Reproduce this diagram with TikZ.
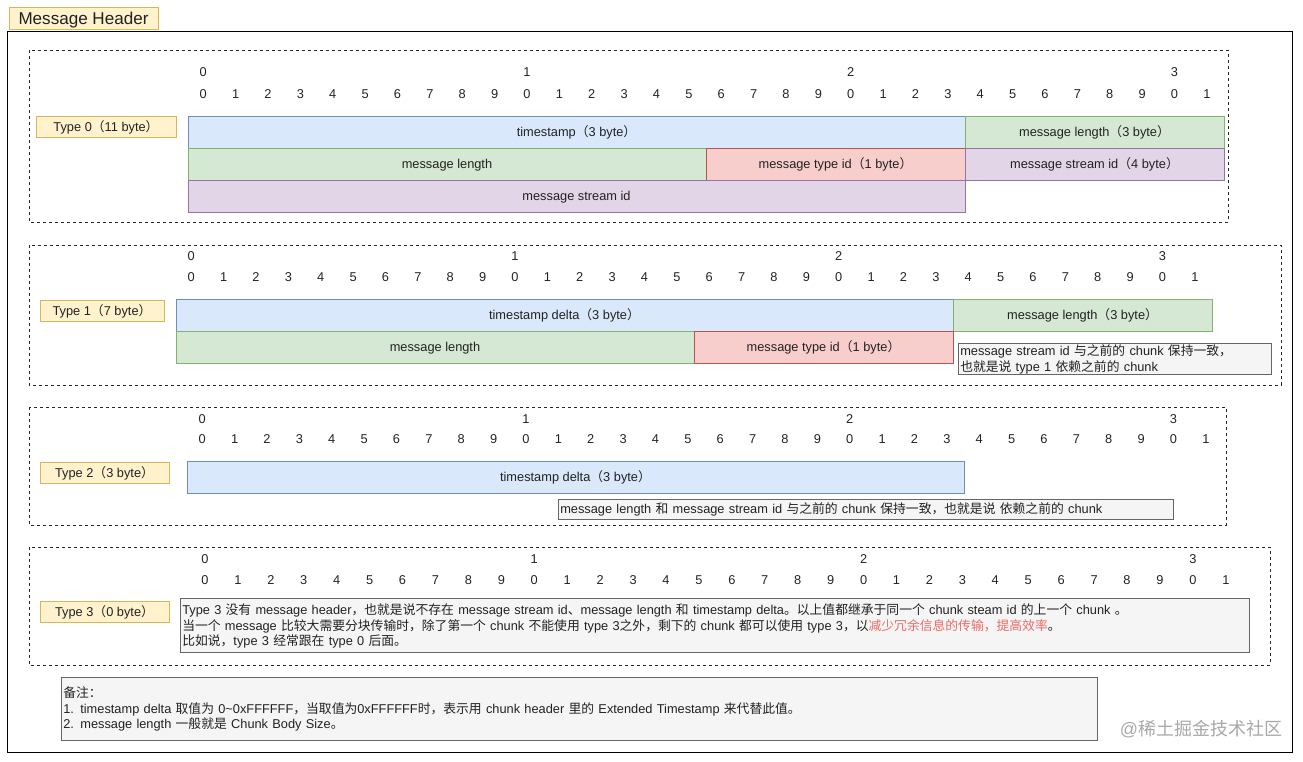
\documentclass[tikz,border=0pt]{standalone}
\usepackage{fontspec}
\setmainfont{Liberation Sans}
\newfontfamily\cjkfont{Noto Sans CJK SC}
\XeTeXinterchartokenstate=1
\chardef\CJKcls=10
\newcount\cjkcc
\cjkcc="3000 \loop \XeTeXcharclass\cjkcc=\CJKcls \ifnum\cjkcc<"303F \advance\cjkcc by 1 \repeat
\cjkcc="4E00 \loop \XeTeXcharclass\cjkcc=\CJKcls \ifnum\cjkcc<"9FFF \advance\cjkcc by 1 \repeat
\cjkcc="FF00 \loop \XeTeXcharclass\cjkcc=\CJKcls \ifnum\cjkcc<"FFEF \advance\cjkcc by 1 \repeat
\XeTeXinterchartoks 0 \CJKcls = {\cjkfont}
\XeTeXinterchartoks 4095 \CJKcls = {\cjkfont}
\XeTeXinterchartoks \CJKcls 0 = {\normalfont}
\XeTeXinterchartoks \CJKcls 4095 = {\normalfont}
\definecolor{yfill}{HTML}{FFF2CC}\definecolor{ydraw}{HTML}{D6B656}
\definecolor{bfill}{HTML}{DAE8FC}\definecolor{bdraw}{HTML}{6C8EBF}
\definecolor{gfill}{HTML}{D5E8D4}\definecolor{gdraw}{HTML}{82B366}
\definecolor{rfill}{HTML}{F8CECC}\definecolor{rdraw}{HTML}{B85450}
\definecolor{pfill}{HTML}{E1D5E7}\definecolor{pdraw}{HTML}{9673A6}
\definecolor{nfill}{HTML}{F5F5F5}\definecolor{ndraw}{HTML}{666666}
\definecolor{txt}{HTML}{222222}\definecolor{redtxt}{HTML}{EA6B66}
\definecolor{wm}{HTML}{A8A8A8}
\newcommand\fld[7]{\node[#6, minimum width={(#4-#2)*0.75pt}, minimum height={(#5-#3)*0.75pt}] (#1) at ({(#2+#4)/2},{(#3+#5)/2}) {#7};}
\newcommand\notebox[7]{%
  \node[notebg, minimum width={(#4-#2)*0.75pt}, minimum height={(#5-#3)*0.75pt}] (#1) at ({(#2+#4)/2},{(#3+#5)/2}) {};
  \node[notetext, anchor=base west, text width={(#4-#2-4)*0.75pt}] (#1-t) at (#2+2,#6) {#7};}
\newcommand\bitrow[5]{%
  \foreach \i in {0,...,31}{\pgfmathtruncatemacro\dd{mod(\i,10)}\node[digit] (#1-\i) at ({#2+(\i+0.5)*#3},#5) {\dd};}
  \foreach \i/\t in {0/0,10/1,20/2,30/3}{\node[digit] (#1-d\i) at ({#2+(\i+0.5)*#3},#4) {\t};}}
\begin{document}
\begin{tikzpicture}[x=0.75pt,y=-0.75pt,
  font=\fontsize{9.6}{11.6}\selectfont, text=txt,
  base/.style={inner sep=0pt, outer sep=0pt, line width=0.75pt, text height=9pt, text depth=2.1pt},
  yel/.style={base, fill=yfill, draw=ydraw},
  blu/.style={base, fill=bfill, draw=bdraw},
  grn/.style={base, fill=gfill, draw=gdraw},
  rd/.style={base, fill=rfill, draw=rdraw},
  pur/.style={base, fill=pfill, draw=pdraw},
  notebg/.style={inner sep=0pt, outer sep=0pt, line width=0.75pt, fill=nfill, draw=ndraw},
  notetext/.style={inner sep=0pt, align=left, font=\fontsize{9.6}{11.6}\selectfont},
  digit/.style={inner sep=0pt, text height=9pt, text depth=2.1pt},
  grp/.style={draw=black!85, line width=0.75pt, dash pattern=on 2.25pt off 2.25pt}]
\useasboundingbox (0,0) rectangle (1303,761);
% title & outer frame
\fld{title}{9}{7}{158}{29}{yel, font=\fontsize{12.8}{15}\selectfont, text height=12pt, text depth=2.8pt}{Message Header}
\draw[line width=0.75pt] (7,31) rectangle (1292,752);
% ---------- Type 0
\draw[grp] (29,50) rectangle (1228,222);
\bitrow{a}{187}{32.375}{72}{94}
\fld{t0}{36}{116}{176}{137}{yel}{Type 0（11 byte）}
\fld{a1}{188}{116}{965}{148}{blu}{timestamp（3 byte）}
\fld{a2}{965}{116}{1224}{148}{grn}{message length（3 byte）}
\fld{a3}{188}{148}{706}{180}{grn}{message length}
\fld{a4}{706}{148}{965}{180}{rd}{message type id（1 byte）}
\fld{a5}{965}{148}{1224}{180}{pur}{message stream id（4 byte）}
\fld{a6}{188}{180}{965}{212}{pur}{message stream id}
% ---------- Type 1
\draw[grp] (29,245) rectangle (1281,385);
\bitrow{b}{175}{32.375}{256}{277}
\fld{t1}{40}{300}{164}{321}{yel}{Type 1（7 byte）}
\fld{b1}{176}{299}{953}{331}{blu}{timestamp delta（3 byte）}
\fld{b2}{953}{299}{1212}{331}{grn}{message length（3 byte）}
\fld{b3}{176}{331}{694}{363}{grn}{message length}
\fld{b4}{694}{331}{953}{363}{rd}{message type id（1 byte）}
\notebox{n1}{958}{343}{1271}{374}{355.6}{message stream id 与之前的 chunk 保持一致，\\也就是说 type 1 依赖之前的 chunk}
% ---------- Type 2
\draw[grp] (29,407) rectangle (1226,525);
\bitrow{c}{186}{32.375}{419}{439}
\fld{t2}{40}{462}{169}{483}{yel}{Type 2（3 byte）}
\fld{c1}{187}{461}{964}{493}{blu}{timestamp delta（3 byte）}
\notebox{n2}{558}{499}{1173}{519}{513.6}{message length 和 message stream id 与之前的 chunk 保持一致，也就是说 依赖之前的 chunk}
% ---------- Type 3
\draw[grp] (29,547) rectangle (1270,665);
\bitrow{d}{188.5}{32.93}{559}{580}
\fld{t3}{40}{601}{169}{622}{yel}{Type 3（0 byte）}
\notebox{n3}{180}{598}{1249}{652}{614.6}{Type 3 没有 message header，也就是说不存在 message stream id、message length 和 timestamp delta。以上值都继承于同一个 chunk steam id 的上一个 chunk 。\\当一个 message 比较大需要分块传输时，除了第一个 chunk 不能使用 type 3之外，剩下的 chunk 都可以使用 type 3，以\textcolor{redtxt}{减少冗余信息的传输，提高效率}。\\比如说，type 3 经常跟在 type 0 后面。}
% ---------- footer note
\notebox{n4}{61}{677}{1097}{740}{697.6}{备注：\\1. timestamp delta 取值为 0\textasciitilde 0xFFFFFF，当取值为0xFFFFFF时，表示用 chunk header 里的 Extended Timestamp 来代替此值。\\2. message length 一般就是 Chunk Body Size。}
\node[text=wm, font=\fontsize{13.5}{15}\selectfont, inner sep=0pt] (wmark) at (1201,729) {@稀土掘金技术社区};
\end{tikzpicture}
\end{document}
